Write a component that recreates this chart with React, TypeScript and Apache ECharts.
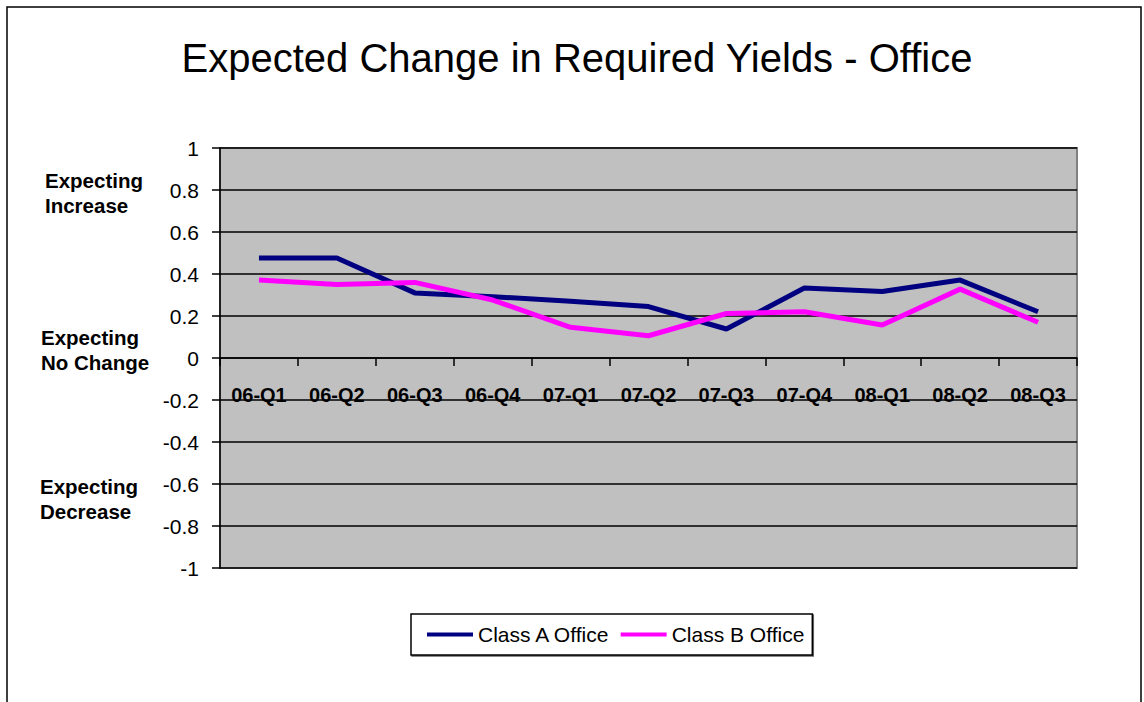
import React, { useEffect, useRef } from "react";
import * as echarts from "echarts";

const categories = ["06-Q1", "06-Q2", "06-Q3", "06-Q4", "07-Q1", "07-Q2", "07-Q3", "07-Q4", "08-Q1", "08-Q2", "08-Q3"];
const classA = [0.476, 0.476, 0.31, 0.292, 0.27, 0.245, 0.138, 0.333, 0.317, 0.371, 0.22];
const classB = [0.371, 0.35, 0.36, 0.276, 0.146, 0.106, 0.212, 0.22, 0.157, 0.328, 0.17];
const seriesNames = ["Class A Office", "Class B Office"];
const titleText = "Expected Change in Required Yields - Office";
const sideNotes = [
  { text: "Expecting\nIncrease", x: 45, y: 168 },
  { text: "Expecting\nNo Change", x: 41, y: 325 },
  { text: "Expecting\nDecrease", x: 40, y: 474 },
];

const FONT = "'Liberation Sans', Arial, Helvetica, sans-serif";

export default function App() {
  const ref = useRef<HTMLDivElement>(null);
  useEffect(() => {
    if (!ref.current) return;
    const chart = echarts.init(ref.current, undefined, { renderer: "svg" });
    chart.setOption({
      animation: false,
      backgroundColor: "#ffffff",
      textStyle: { fontFamily: FONT },
      grid: { left: 220, right: 67, top: 148, bottom: 134, show: true, backgroundColor: "#C0C0C0", borderColor: "#808080", borderWidth: 2 },
      xAxis: {
        type: "category",
        data: categories,
        boundaryGap: true,
        axisLine: { onZero: true, lineStyle: { color: "#000", width: 1.5 } },
        axisTick: { show: true, inside: false, length: 8, lineStyle: { color: "#000", width: 1.5 } },
        axisLabel: { color: "#000", fontSize: 20, fontWeight: "bold", fontFamily: FONT, margin: -183 },
        splitLine: { show: false },
      },
      yAxis: {
        type: "value",
        min: -1,
        max: 1,
        interval: 0.2,
        axisLine: { show: true, lineStyle: { color: "#000", width: 1.5 } },
        axisTick: { show: true, length: 8, lineStyle: { color: "#000", width: 1.5 } },
        axisLabel: { color: "#000", fontSize: 21, fontFamily: FONT, margin: 21, formatter: (v: number) => String(Math.round(v * 10) / 10) },
        splitLine: { show: true, lineStyle: { color: "#000", width: 1.5 } },
      },
      legend: {
        data: seriesNames,
        left: 411,
        top: 614,
        itemWidth: 46,
        itemHeight: 4,
        itemGap: 10,
        padding: [10, 8, 10, 16],
        borderColor: "#000",
        borderWidth: 1.5,
        backgroundColor: "#fff",
        shadowColor: "rgba(0,0,0,0.6)",
        shadowOffsetX: 1,
        shadowOffsetY: 1,
        icon: "rect",
        textStyle: { color: "#000", fontSize: 21, fontFamily: FONT },
      },
      series: [
        { name: seriesNames[0], type: "line", data: classA, symbol: "none", lineStyle: { color: "#000080", width: 5 }, itemStyle: { color: "#000080" } },
        { name: seriesNames[1], type: "line", data: classB, symbol: "none", lineStyle: { color: "#FF00FF", width: 5 }, itemStyle: { color: "#FF00FF" } },
      ],
      graphic: [
        { type: "rect", shape: { x: 7, y: 7, width: 1134, height: 710 }, style: { fill: "none", stroke: "#000", lineWidth: 1.5 }, silent: true, z: -1 },
        { type: "text", x: 577, y: 58, style: { text: titleText, fontSize: 40, fontFamily: FONT, fill: "#000", align: "center", verticalAlign: "middle" } },
        ...sideNotes.map((n) => ({
          type: "text",
          x: n.x,
          y: n.y,
          style: { text: n.text, fontSize: 20.5, fontWeight: "bold", fontFamily: FONT, fill: "#000", lineHeight: 25, align: "left", verticalAlign: "top" },
        })),
      ],
    });
    return () => chart.dispose();
  }, []);
  return <div ref={ref} style={{ position: "fixed", left: 0, top: 0, width: 1144, height: 702 }} />;
}
